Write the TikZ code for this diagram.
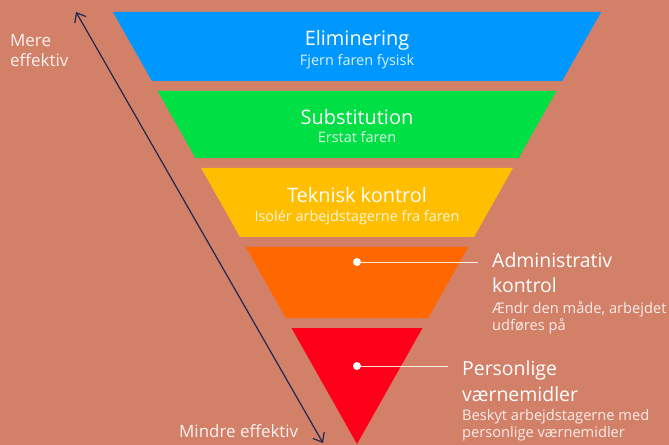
\documentclass[tikz,border=0pt]{standalone}
\usepackage{fontspec}
\setmainfont{Open Sans}
\usetikzlibrary{arrows.meta}
\definecolor{bgc}{RGB}{211,128,105}
\definecolor{cblue}{RGB}{0,152,255}
\definecolor{cgreen}{RGB}{0,224,68}
\definecolor{cyellow}{RGB}{255,190,0}
\definecolor{corange}{RGB}{255,104,0}
\definecolor{cred}{RGB}{255,0,26}
\definecolor{navy}{RGB}{30,40,78}
\begin{document}
\begin{tikzpicture}[x=1bp,y=-1bp,
  title/.style={anchor=base,inner sep=0,text=white,font=\fontsize{20}{23}\selectfont},
  subtitle/.style={anchor=base,inner sep=0,text=white,text opacity=0.85,font=\fontsize{14.5}{17}\selectfont},
  rlabel/.style={anchor=base west,inner sep=0,text=white,font=\fontsize{19.5}{22}\selectfont},
  rsub/.style={anchor=base west,inner sep=0,text=white,text opacity=0.85,font=\fontsize{14.7}{17}\selectfont},
  side/.style={anchor=base west,inner sep=0,text=white,text opacity=0.9,font=\fontsize{17}{20}\selectfont},
  dot/.style={circle,fill=white,minimum size=8bp,inner sep=0},
  lead/.style={draw=white,draw opacity=0.85,line width=0.8bp},
  effarrow/.style={draw=navy,line width=1.2bp,{Straight Barb[length=8bp,width=13bp]}-{Straight Barb[length=8bp,width=13bp]}}
]
\fill[bgc] (0,0) rectangle (669,445);
\useasboundingbox (0,0) rectangle (669,445);

% bands
\fill[cblue]   (112.9,12) -- (601.1,12) -- (562.1,81) -- (151.9,81) -- cycle;
\fill[cgreen]  (157.6,91) -- (556.4,91) -- (518.6,158) -- (195.4,158) -- cycle;
\fill[cyellow] (201.1,168) -- (512.9,168) -- (474,237) -- (240,237) -- cycle;
\fill[corange] (245.7,247) -- (468.3,247) -- (428.2,318) -- (285.8,318) -- cycle;
\fill[cred]    (291.5,328) -- (422.5,328) -- (357,444) -- cycle;

% band texts
\node[title] (t1) at (357,46) {Eliminering};
\node[subtitle] (s1) at (357,66) {Fjern faren fysisk};
\node[title] (t2) at (357,125) {Substitution};
\node[subtitle] (s2) at (357,143) {Erstat faren};
\node[title] (t3) at (357,203) {Teknisk kontrol};
\node[subtitle] (s3) at (357,222) {Isolér arbejdstagerne fra faren};

% callouts
\node[dot] (d4) at (357,262) {};
\coordinate (e4) at (478,262);
\draw[lead] (d4.center) -- (e4);
\node[rlabel] (l4a) at (492,268) {Administrativ};
\node[rlabel] (l4b) at (492,293) {kontrol};
\node[rsub] (l4c) at (492,314) {Ændr den måde, arbejdet};
\node[rsub] (l4d) at (492,331) {udføres på};

\node[dot] (d5) at (357,366) {};
\coordinate (e5) at (448,366);
\draw[lead] (d5.center) -- (e5);
\node[rlabel] (l5a) at (462,375) {Personlige};
\node[rlabel] (l5b) at (462,401) {værnemidler};
\node[rsub] (l5c) at (462,420) {Beskyt arbejdstagerne med};
\node[rsub] (l5d) at (462,437) {personlige værnemidler};

% effectiveness arrow
\coordinate (aT) at (76,12);
\coordinate (aB) at (323,443);
\draw[effarrow] (aT) -- (aB);
\node[side] (m1) at (10,47) {Mere};
\node[side] (m2) at (10,67) {effektiv};
\node[side] (m3) at (179,437) {Mindre effektiv};
\end{tikzpicture}
\end{document}
